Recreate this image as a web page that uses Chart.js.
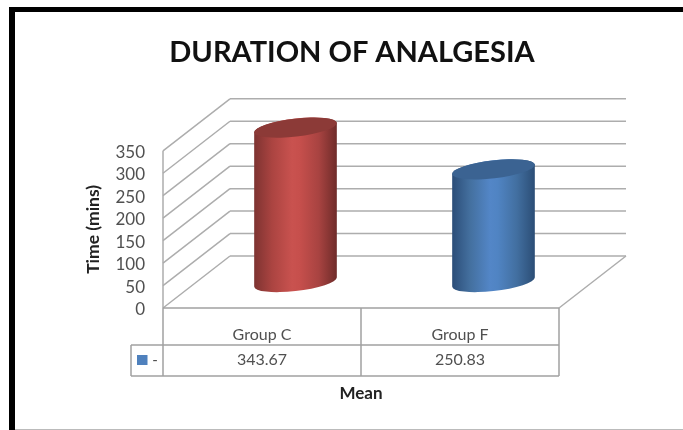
<!DOCTYPE html>
<html><head><meta charset="utf-8">
<script src="https://cdn.jsdelivr.net/npm/chart.js@4"></script>
<style>
html,body{margin:0;padding:0;background:#fff;overflow:hidden}
#wrap{position:relative;width:683px;height:430px}
canvas{position:absolute;left:0;top:0;filter:blur(.35px)}
.f{position:absolute;background:#000}
</style></head><body>
<div id="wrap">
<div class="f" style="left:9px;top:7px;width:674px;height:5px"></div>
<div class="f" style="left:9px;top:7px;width:6px;height:423px"></div>
<div class="f" style="left:15px;top:429px;width:668px;height:1px;background:#bbb"></div>
<canvas id="c" width="683" height="430"></canvas>
</div>
<script>
const categories = ["Group C", "Group F"];
const means = [343.67, 250.83];
const valueLabels = ["343.67", "250.83"];
const barColors = ["#C0504D", "#4F81BD"];
const seriesLabel = "-";
const chartTitle = "DURATION OF ANALGESIA";
const yTitle = "Time (mins)";
const xTitle = "Mean";

const GRID = "#adadad", TABLE = "#a0a0a0", TXT = "#505050";
const DX = 67, DY = 52;           // depth of the 3D box
const TOP_ROW = 37, ROW2 = 31;    // data-table rows
const KEY_LEFT = 131;

const shades = {
  "#C0504D": {stops:["#7d3331","#ab4441","#c9524f","#c64f4c","#a84341","#6e2b29"], top:"#8c3a37"},
  "#4F81BD": {stops:["#2b4d78","#44709f","#5386c7","#5084c3","#426fa0","#2b4d75"], top:"#3b6392"}
};

function line(ctx, x1, y1, x2, y2){ ctx.beginPath(); ctx.moveTo(x1,y1); ctx.lineTo(x2,y2); ctx.stroke(); }

const box3d = {
  id: "box3d",
  beforeDatasetsDraw(chart){
    const {ctx, chartArea:a, scales:{y}} = chart;
    ctx.save();
    ctx.strokeStyle = GRID; ctx.lineWidth = 1.5;
    y.ticks.forEach(t => {
      const py = y.getPixelForValue(t.value);
      line(ctx, a.left, py, a.left+DX, py-DY);
      line(ctx, a.left+DX, py-DY, a.right+DX, py-DY);
    });
    line(ctx, a.left, a.top, a.left, a.bottom);
    line(ctx, a.right, a.bottom, a.right+DX, a.bottom-DY);
    ctx.restore();
  },
  beforeDatasetDraw(chart, args){
    const {ctx} = chart;
    args.meta.data.forEach((bar, i) => {
      const col = barColors[i], s = shades[col];
      const p = bar.getProps(["x","y","base","width"], true);
      const cx = p.x + DX/2, yT = p.y - DY/2, yB = p.base - DY/2;
      const rx = p.width/2, ry = 9, r = -6.6*Math.PI/180;
      const t0 = Math.atan(-(ry*Math.sin(r))/(rx*Math.cos(r)));
      const g = ctx.createLinearGradient(cx-rx,0,cx+rx,0);
      [0,.22,.46,.55,.78,1].forEach((o,k)=>g.addColorStop(o,s.stops[k]));
      ctx.save();
      ctx.beginPath();
      ctx.ellipse(cx,yB,rx,ry,r,t0,t0+Math.PI);
      ctx.ellipse(cx,yT,rx,ry,r,t0+Math.PI,t0+2*Math.PI);
      ctx.closePath();
      ctx.fillStyle = g; ctx.fill();
      ctx.beginPath();
      ctx.ellipse(cx,yT,rx,ry,r,0,2*Math.PI);
      ctx.fillStyle = s.top; ctx.fill();
      ctx.restore();
    });
    return false;
  },
  afterDraw(chart){
    const {ctx, chartArea:a, scales:{x}} = chart;
    const y0 = a.bottom, y1 = y0+TOP_ROW, y2 = y1+ROW2;
    const mid = (x.getPixelForValue(0)+x.getPixelForValue(1))/2;
    ctx.save();
    ctx.strokeStyle = TABLE; ctx.lineWidth = 1.5;
    line(ctx,a.left,y0,a.right,y0);
    line(ctx,KEY_LEFT,y1,a.right,y1);
    line(ctx,KEY_LEFT,y2,a.right,y2);
    line(ctx,KEY_LEFT,y1,KEY_LEFT,y2);
    [a.left,mid,a.right].forEach(px=>line(ctx,px,y0,px,y2));
    ctx.fillStyle = barColors[1];
    ctx.fillRect(KEY_LEFT+6,y1+10,10.5,10);
    ctx.fillStyle = TXT; ctx.textBaseline = "middle"; ctx.textAlign = "center";
    ctx.font = "15px Lato";
    ctx.fillText(seriesLabel,KEY_LEFT+24,y1+15);
    ctx.font = "16px Lato";
    valueLabels.forEach((v,i)=>ctx.fillText(v,x.getPixelForValue(i),y1+15));
    ctx.restore();
  }
};

new Chart(document.getElementById("c"), {
  type: "bar",
  data: { labels: categories, datasets: [{ label: seriesLabel, data: means, backgroundColor: barColors,
          barPercentage: 0.42, categoryPercentage: 1 }] },
  plugins: [box3d],
  options: {
    responsive: false, animation: false, devicePixelRatio: 1,
    layout: { padding: { left: 21, right: 0, top: 0, bottom: 26 } },
    plugins: {
      legend: { display: false }, tooltip: { enabled: false },
      title: { display: true, text: chartTitle, color: "#111", font: { family: "Lato", size: 29, weight: "bold", lineHeight: 1.2 },
               padding: { top: 35, bottom: 81 } }
    },
    scales: {
      x: { grid: { display: false }, border: { display: false },
           ticks: { color: TXT, font: { family: "Lato", size: 16 }, padding: 9, maxRotation: 0 },
           title: { display: true, text: xTitle, color: "#222", font: { family: "Lato", size: 17, weight: "bold" }, padding: 0 },
           afterFit(s){ s.height = 96; } },
      y: { min: 0, max: 350, grid: { display: false }, border: { display: false },
           ticks: { stepSize: 50, autoSkip: false, color: TXT, font: { family: "Lato", size: 17 }, padding: 10, labelOffset: 1.5 },
           title: { display: true, text: yTitle, color: "#222", font: { family: "Lato", size: 17.5, weight: "bold" }, padding: { top: 62, bottom: 0 } },
           afterFit(s){ s.width = 142; } },
      spacer: { position: "right", grid: { display: false }, border: { display: false }, ticks: { display: false },
           afterFit(s){ s.width = 124; } }
    }
  }
});
</script>
</body></html>
